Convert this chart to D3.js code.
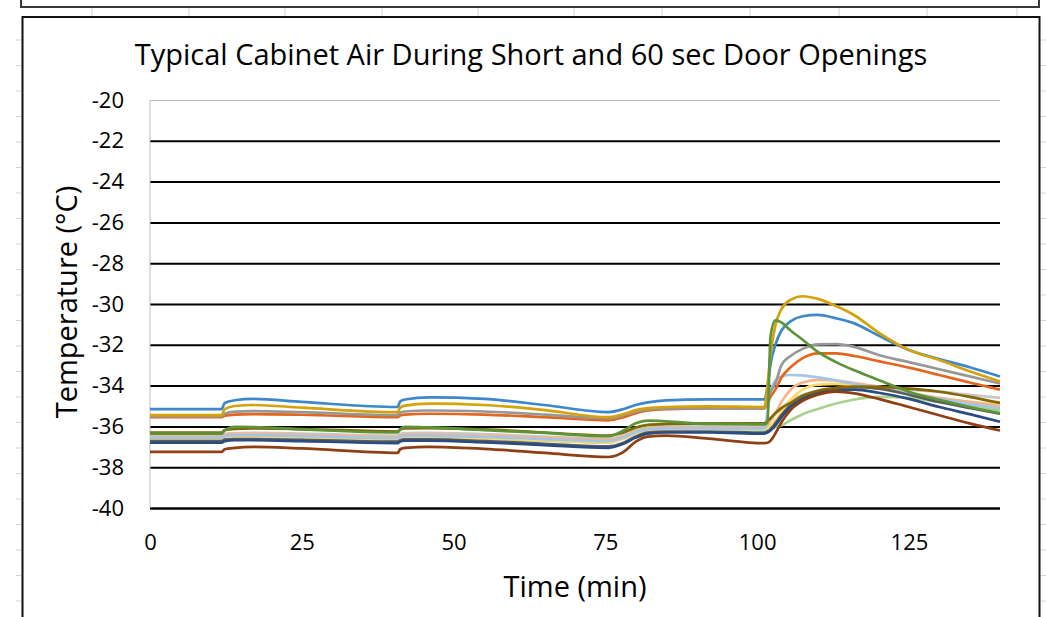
<!DOCTYPE html>
<html>
<head>
<meta charset="utf-8">
<script src="https://cdn.jsdelivr.net/npm/d3@7"></script>
<style>
  body { margin: 0; background: #fff; }
  svg { display: block; font-family: "Open Sans", "Noto Sans", sans-serif; }
</style>
</head>
<body>
<svg id="chart" width="1046" height="617"></svg>
<script>
// sample times (min), shared by every series
var time = [0, 11.8, 12.3, 14, 17, 25, 40.8, 41.2, 42, 46, 55, 65, 75.5, 78, 80, 82, 85, 92,
  101.2, 101.7, 102.2, 103, 104, 105.5, 107.5, 110, 113, 116, 120, 125, 130, 135, 140];

var lightGray = [-36.45, -36.45, -36.38, -36.33, -36.32, -36.35, -36.45, -36.38, -36.33, -36.32, -36.38, -36.5, -36.6, -36.45, -36.2, -36.05, -36.0, -36.0,
  -36.0, -35.9, -35.7, -35.4, -35.1, -34.75, -34.45, -34.25, -34.12, -34.08, -34.1, -34.2, -34.3, -34.45, -34.6];
var lightGreen = [-36.62, -36.62, -36.55, -36.52, -36.52, -36.55, -36.65, -36.58, -36.55, -36.55, -36.6, -36.7, -36.8, -36.55, -36.2, -36.05, -36.05, -36.1,
  -36.15, -36.15, -36.12, -36.05, -35.95, -35.7, -35.4, -35.15, -34.88, -34.68, -34.55, -34.6, -34.8, -35.0, -35.2];
var lightYellow = [-36.6, -36.6, -36.52, -36.5, -36.5, -36.53, -36.62, -36.55, -36.52, -36.52, -36.58, -36.68, -36.78, -36.6, -36.35, -36.18, -36.12, -36.1,
  -36.1, -36.05, -35.95, -35.7, -35.3, -34.7, -34.2, -33.95, -33.92, -34.0, -34.15, -34.4, -34.6, -34.8, -34.95];
var lightOrange = [-36.5, -36.5, -36.42, -36.38, -36.38, -36.42, -36.52, -36.44, -36.4, -36.4, -36.46, -36.55, -36.65, -36.5, -36.25, -36.1, -36.05, -36.05,
  -36.05, -35.95, -35.7, -35.35, -34.8, -34.2, -33.85, -33.72, -33.75, -33.88, -34.05, -34.35, -34.6, -34.8, -35.0];
var lightBlue = [-36.55, -36.55, -36.48, -36.44, -36.44, -36.48, -36.58, -36.5, -36.46, -36.46, -36.52, -36.62, -36.72, -36.55, -36.3, -36.15, -36.1, -36.1,
  -36.1, -35.3, -34.3, -33.75, -33.55, -33.48, -33.5, -33.6, -33.75, -33.92, -34.1, -34.4, -34.65, -34.9, -35.1];
var darkGray = [-36.72, -36.72, -36.65, -36.62, -36.62, -36.66, -36.75, -36.68, -36.64, -36.64, -36.72, -36.85, -36.98, -36.8, -36.5, -36.3, -36.25, -36.25,
  -36.3, -36.25, -36.15, -35.85, -35.45, -34.95, -34.55, -34.28, -34.13, -34.08, -34.15, -34.45, -34.8, -35.1, -35.38];
var navy = [-36.8, -36.8, -36.72, -36.68, -36.68, -36.72, -36.82, -36.74, -36.7, -36.7, -36.78, -36.92, -37.05, -36.85, -36.55, -36.35, -36.3, -36.3,
  -36.35, -36.3, -36.2, -35.95, -35.55, -35.05, -34.65, -34.38, -34.22, -34.2, -34.35, -34.65, -35.05, -35.4, -35.77];
var brown = [-37.25, -37.25, -37.12, -37.05, -37.0, -37.08, -37.3, -37.12, -37.05, -37.0, -37.1, -37.3, -37.5, -37.25, -36.75, -36.5, -36.45, -36.6,
  -36.82, -36.8, -36.7, -36.35, -35.8, -35.2, -34.75, -34.45, -34.3, -34.38, -34.65, -35.05, -35.45, -35.85, -36.2];
var olive = [-36.3, -36.3, -36.18, -36.12, -36.1, -36.13, -36.25, -36.15, -36.1, -36.08, -36.15, -36.3, -36.45, -36.3, -36.05, -35.92, -35.88, -35.85,
  -35.85, -35.75, -35.6, -35.35, -35.1, -34.85, -34.5, -34.25, -34.12, -34.05, -34.06, -34.15, -34.3, -34.55, -34.85];
var orange = [-35.55, -35.55, -35.47, -35.42, -35.4, -35.43, -35.55, -35.46, -35.42, -35.38, -35.42, -35.55, -35.7, -35.55, -35.35, -35.22, -35.15, -35.12,
  -35.12, -34.85, -34.55, -34.2, -33.6, -33.1, -32.65, -32.42, -32.42, -32.55, -32.8, -33.12, -33.48, -33.85, -34.2];
var gray = [-35.5, -35.5, -35.38, -35.28, -35.25, -35.3, -35.45, -35.32, -35.27, -35.22, -35.27, -35.42, -35.6, -35.45, -35.28, -35.17, -35.12, -35.1,
  -35.1, -34.7, -34.3, -33.9, -33.0, -32.55, -32.2, -31.98, -31.97, -32.1, -32.5, -32.85, -33.2, -33.55, -33.9];
var blue = [-35.15, -35.15, -34.85, -34.72, -34.65, -34.8, -35.05, -34.78, -34.68, -34.58, -34.65, -34.95, -35.3, -35.15, -34.95, -34.82, -34.72, -34.68,
  -34.68, -34.1, -32.95, -32.0, -31.3, -30.85, -30.6, -30.53, -30.7, -30.95, -31.55, -32.25, -32.7, -33.1, -33.55];
var gold = [-35.45, -35.45, -35.15, -35.0, -34.95, -35.08, -35.3, -35.08, -34.98, -34.88, -34.95, -35.2, -35.55, -35.4, -35.2, -35.1, -35.05, -35.02,
  -35.05, -34.0, -32.5, -31.05, -30.25, -29.8, -29.62, -29.75, -30.1, -30.55, -31.4, -32.25, -32.75, -33.3, -33.8];
var green = [-36.35, -36.35, -36.2, -36.02, -36.03, -36.15, -36.3, -36.15, -36.02, -36.05, -36.18, -36.32, -36.48, -36.2, -35.85, -35.72, -35.75, -35.88,
  -35.9, -35.8, -31.6, -30.8, -30.9, -31.3, -31.75, -32.35, -32.85, -33.25, -33.72, -34.3, -34.7, -35.05, -35.35];

var xTicks = [0, 25, 50, 75, 100, 125];
var yTicks = [-40, -38, -36, -34, -32, -30, -28, -26, -24, -22, -20];

var series = [
  {v: lightGray, c: '#c8c8c8'},
  {v: lightGreen, c: '#a9d18e'},
  {v: lightYellow, c: '#ffd966'},
  {v: lightOrange, c: '#f5b58c'},
  {v: lightBlue, c: '#a3c6e8'},
  {v: darkGray, c: '#5c5c5c'},
  {v: navy, c: '#2b4c80'},
  {v: brown, c: '#8f4012'},
  {v: olive, c: '#866600'},
  {v: orange, c: '#e2661c'},
  {v: gray, c: '#979797'},
  {v: blue, c: '#3d87cc'},
  {v: gold, c: '#d4a20a'},
  {v: green, c: '#5d9437'}
];

var fontFam = '"Open Sans", "Noto Sans", sans-serif';
var svg = d3.select('#chart');

// faint spreadsheet cells behind the chart
var colX = [92, 189, 285, 382, 478, 574, 662, 750, 839, 927, 1017];
svg.selectAll('line.col').data(colX).enter().append('line')
  .attr('x1', function(d){ return d; }).attr('x2', function(d){ return d; })
  .attr('y1', 8).attr('y2', 16)
  .style('stroke', '#d4d4d4').style('stroke-width', 1);
var rowY = d3.range(40, 617, 25.5);
rowY.forEach(function(yy){
  svg.append('line').attr('x1', 16).attr('x2', 21).attr('y1', yy).attr('y2', yy)
    .style('stroke', '#d4d4d4');
  svg.append('line').attr('x1', 1041).attr('x2', 1046).attr('y1', yy).attr('y2', yy)
    .style('stroke', '#d4d4d4');
});

// box of the chart above (only its bottom shows)
svg.append('rect')
  .attr('x', 21).attr('y', -10).attr('width', 1018).attr('height', 17)
  .style('fill', '#fff').style('stroke', '#3a3a3a').style('stroke-width', 2);

// this chart's box
svg.append('rect')
  .attr('x', 22.5).attr('y', 17).attr('width', 1017).attr('height', 640)
  .style('fill', '#fff').style('stroke', '#111').style('stroke-width', 2);

var x = d3.scaleLinear().domain([0, 140]).range([150, 1000]);
var y = d3.scaleLinear().domain([-40, -20]).range([508, 100]);

// gridlines + y labels
var yAxis = svg.append('g')
  .attr('class', 'yaxis')
  .attr('transform', 'translate(150,0)')
  .call(d3.axisLeft(y).tickValues(yTicks).tickSize(-850).tickPadding(26).tickFormat(d3.format('d')))
  .attr('font-family', fontFam);
yAxis.select('path.domain').remove();
yAxis.selectAll('.tick line')
  .style('stroke', function(d){ return d == -20 ? '#bdbdbd' : '#000'; })
  .style('stroke-width', function(d){ return d == -20 ? 1 : (d == -40 ? 2.5 : 2); });
yAxis.selectAll('.tick text')
  .style('font-size', '22px').style('fill', '#000')
  .text(function(d){ return d3.format('d')(d).replace('\u2212', '-'); });

// left edge of plot area
svg.append('line')
  .attr('x1', 150).attr('x2', 150).attr('y1', y(-20)).attr('y2', y(-40))
  .style('stroke', '#bdbdbd').style('stroke-width', 1);

var xAxis = svg.append('g')
  .attr('class', 'xaxis')
  .attr('transform', 'translate(0,' + y(-40) + ')')
  .call(d3.axisBottom(x).tickValues(xTicks).tickSize(0).tickPadding(26))
  .attr('font-family', fontFam);
xAxis.select('path.domain').remove();
xAxis.selectAll('.tick text').style('font-size', '22px').style('fill', '#000');

var line = d3.line()
  .x(function(d, i){ return x(time[i]); })
  .y(function(d){ return y(d); })
  .curve(d3.curveMonotoneX);

svg.append('g').selectAll('path')
  .data(series).enter().append('path')
  .attr('d', function(s){ return line(s.v); })
  .style('fill', 'none')
  .style('stroke', function(s){ return s.c; })
  .style('stroke-width', 2.7)
  .style('stroke-linejoin', 'round');

// titles
svg.append('text')
  .attr('x', 531).attr('y', 65)
  .attr('text-anchor', 'middle')
  .style('font-size', '29px')
  .text('Typical Cabinet Air During Short and 60 sec Door Openings');

svg.append('text')
  .attr('transform', 'translate(77,302) rotate(-90)')
  .attr('text-anchor', 'middle')
  .style('font-size', '29px')
  .text('Temperature (°C)');

svg.append('text')
  .attr('x', 575).attr('y', 597)
  .attr('text-anchor', 'middle')
  .style('font-size', '29px')
  .text('Time (min)');
</script>
</body>
</html>
